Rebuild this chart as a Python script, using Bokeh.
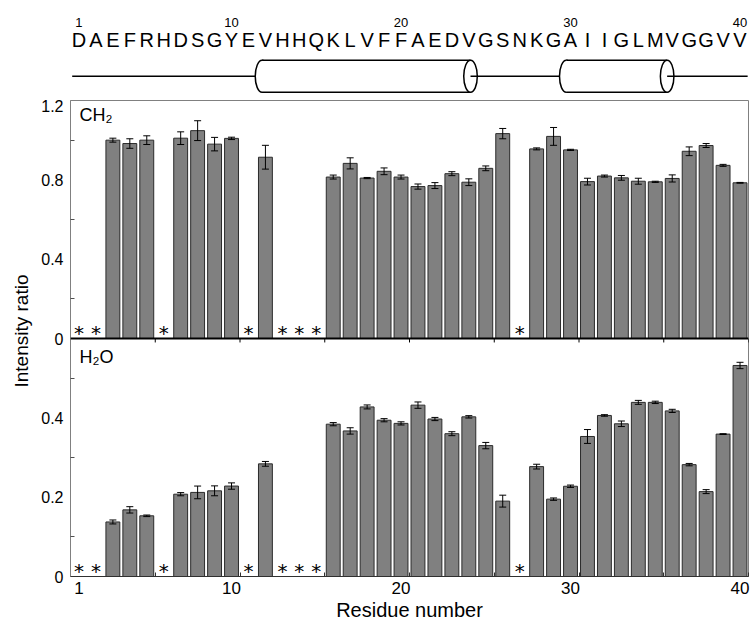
from bokeh.plotting import figure
from bokeh.models import (Range1d, FixedTicker, Whisker, TeeHead, ColumnDataSource,
                          Label, Span, Title)
from bokeh.layouts import column
from bokeh.embed import file_html
from bokeh.resources import INLINE
from bokeh.core.properties import value

# ---------------- data ----------------
residues = list(range(1, 41))
sequence = list("DAEFRHDSGYEVHHQKLVFFAEDVGSNKGAIIGLMVGGVV")
seq_number_ticks = [1, 10, 20, 30, 40]
missing = [1, 2, 6, 11, 13, 14, 15, 27]
helices = [(11.8, 24.1), (29.75, 35.7)]

ch2_ratio = [None, None, 1.000, 0.983, 1.000, None, 1.010, 1.048, 0.980, 1.009,
             None, 0.914, None, None, None, 0.814, 0.883, 0.809, 0.843, 0.814,
             0.766, 0.771, 0.831, 0.788, 0.858, 1.033, None, 0.956, 1.019, 0.951,
             0.791, 0.819, 0.810, 0.793, 0.790, 0.807, 0.944, 0.973, 0.873, 0.785]
ch2_err = [None, None, 0.010, 0.024, 0.022, None, 0.032, 0.050, 0.034, 0.006,
           None, 0.060, None, None, None, 0.010, 0.028, 0.003, 0.017, 0.010,
           0.013, 0.015, 0.010, 0.017, 0.012, 0.026, None, 0.005, 0.045, 0.003,
           0.017, 0.005, 0.012, 0.015, 0.003, 0.018, 0.022, 0.010, 0.005, 0.002]
h2o_ratio = [None, None, 0.1375, 0.168, 0.153, None, 0.2075, 0.212, 0.216, 0.228,
             None, 0.284, None, None, None, 0.384, 0.367, 0.4275, 0.394, 0.386,
             0.432, 0.397, 0.360, 0.4025, 0.330, 0.190, None, 0.277, 0.195, 0.2275,
             0.353, 0.406, 0.385, 0.439, 0.439, 0.4175, 0.282, 0.214, 0.359, 0.532]
h2o_err = [None, None, 0.005, 0.008, 0.002, None, 0.004, 0.016, 0.0125, 0.008,
           None, 0.006, None, None, None, 0.004, 0.008, 0.005, 0.004, 0.004,
           0.008, 0.004, 0.005, 0.003, 0.008, 0.015, None, 0.006, 0.003, 0.003,
           0.0175, 0.002, 0.007, 0.005, 0.003, 0.004, 0.003, 0.005, 0.001, 0.008]

ch2_ticks = [0, 0.4, 0.8, 1.2]
ch2_minor = [0.2, 0.6, 1.0]
h2o_ticks = [0, 0.2, 0.4]
h2o_minor = [0.1, 0.3, 0.5]
x_minor_ticks = [0.5 + 5 * k for k in range(9)]

# ---------------- style ----------------
FONT = "Liberation Sans"
BAR_FILL = "#808080"
BAR_LINE = "#2b2b2b"
GREY = "#808080"
W = 751
LEFT = 70
RIGHT = 3
SEQ_H = 99
MAIN_H = 524
Y_MAIN = (0.0, 1.2)     # H2O panel uses the lower half of this range
Y_CH2 = (-1.2, 1.2)     # CH2 panel uses the upper half of this range


def ch2_to_main(v):
    return round(Y_MAIN[0] + (v - Y_CH2[0]) * (Y_MAIN[1] - Y_MAIN[0]) / (Y_CH2[1] - Y_CH2[0]), 6)


x_range = Range1d(0.5, 40.5)

# ---------------- sequence / secondary structure strip ----------------
s = figure(width=W, height=SEQ_H, x_range=x_range, y_range=Range1d(0, SEQ_H),
           output_backend="svg", toolbar_location=None,
           min_border_left=LEFT, min_border_right=RIGHT, min_border_top=0, min_border_bottom=0)
s.axis.visible = False
s.grid.visible = False
s.outline_line_color = None

NUM_Y, LET_Y, HEL_Y, HEL_HALF = 77.3, 59.8, 23.2, 16.0
CAP_W = 0.8
LINE_START, LINE_END = 0.6, 40.45

s.text(x=seq_number_ticks, y=[NUM_Y] * len(seq_number_ticks),
       text=[str(t) for t in seq_number_ticks], text_font=value(FONT),
       text_font_size="13px", text_align="center", text_baseline="middle", text_color="black")
s.text(x=residues, y=[LET_Y] * len(residues), text=sequence, text_font=value(FONT),
       text_font_size="20px", text_align="center", text_baseline="middle", text_color="black")

starts = [h[0] for h in helices]
ends = [h[1] for h in helices]
s.ellipse(x=starts, y=[HEL_Y] * len(helices), width=CAP_W, height=2 * HEL_HALF,
          fill_color="white", line_color="black", line_width=1.5)
s.quad(left=starts, right=ends, bottom=[HEL_Y - HEL_HALF] * len(helices),
       top=[HEL_Y + HEL_HALF] * len(helices), fill_color="white", line_color=None)
s.segment(x0=starts * 2, x1=ends * 2,
          y0=[HEL_Y + HEL_HALF] * len(helices) + [HEL_Y - HEL_HALF] * len(helices),
          y1=[HEL_Y + HEL_HALF] * len(helices) + [HEL_Y - HEL_HALF] * len(helices),
          line_color="black", line_width=1.5)
s.ellipse(x=ends, y=[HEL_Y] * len(helices), width=CAP_W, height=2 * HEL_HALF,
          fill_color="white", line_color="black", line_width=1.5)
cx0 = [LINE_START] + ends
cx1 = [st - CAP_W / 2 for st in starts] + [LINE_END]
s.segment(x0=cx0, x1=cx1, y0=[HEL_Y] * len(cx0), y1=[HEL_Y] * len(cx0),
          line_color="black", line_width=1.5)

# ---------------- bar panels ----------------
p = figure(width=W, height=MAIN_H, x_range=x_range, y_range=Range1d(*Y_MAIN),
           output_backend="svg", toolbar_location=None,
           min_border_left=LEFT, min_border_right=RIGHT, min_border_top=1,
           min_border_bottom=47)
p.extra_y_ranges = {"ch2": Range1d(*Y_CH2)}
p.grid.visible = False
p.outline_line_color = GREY
p.outline_line_width = 1


def bar_source(vals, errs):
    xs = [r for r, v in zip(residues, vals) if v is not None]
    tops = [v for v in vals if v is not None]
    es = [e for e in errs if e is not None]
    return ColumnDataSource(dict(x=xs, top=tops,
                                 upper=[t + e for t, e in zip(tops, es)],
                                 lower=[t - e for t, e in zip(tops, es)]))


src_ch2 = bar_source(ch2_ratio, ch2_err)
src_h2o = bar_source(h2o_ratio, h2o_err)

p.vbar(x="x", top="top", bottom=0, width=0.82, source=src_ch2, y_range_name="ch2",
       fill_color=BAR_FILL, line_color=BAR_LINE, line_width=1)
p.vbar(x="x", top="top", bottom=0, width=0.82, source=src_h2o,
       fill_color=BAR_FILL, line_color=BAR_LINE, line_width=1)

for src, rn in ((src_ch2, "ch2"), (src_h2o, "default")):
    w = Whisker(source=src, base="x", upper="upper", lower="lower", dimension="height",
                line_color="black", line_width=1, level="annotation", y_range_name=rn,
                upper_head=TeeHead(size=7, line_color="black", line_width=1),
                lower_head=TeeHead(size=7, line_color="black", line_width=1))
    p.add_layout(w)

for rn in ("ch2", "default"):
    p.text(x=missing, y=[0] * len(missing), text=["*"] * len(missing), y_range_name=rn,
           text_font=value("DejaVu Sans"), text_font_size="20px", text_align="center",
           text_baseline="middle", y_offset=-6, text_color="black")

# separator between panels, with short ticks hanging into the lower panel
p.add_layout(Span(location=0, dimension="width", y_range_name="ch2",
                  line_color="black", line_width=2))
p.segment(x0=x_minor_ticks, x1=x_minor_ticks, y0=[0] * len(x_minor_ticks),
          y1=[-0.02] * len(x_minor_ticks), y_range_name="ch2", line_color="black", line_width=1)

# panel labels
p.add_layout(Label(x=0.5, y=Y_CH2[1], y_range_name="ch2", x_offset=9, y_offset=-4,
                   text="CH\u2082", text_font=FONT, text_font_size="18px",
                   text_baseline="top", text_color="black"))
p.add_layout(Label(x=0.5, y=0, y_range_name="ch2", x_offset=9, y_offset=-8,
                   text="H\u2082O", text_font=FONT, text_font_size="18px",
                   text_baseline="top", text_color="black"))

# y axis (one axis, both panels)
major_main = [float(t) for t in h2o_ticks] + [ch2_to_main(t) for t in ch2_ticks]
minor_main = h2o_minor + [ch2_to_main(t) for t in ch2_minor]
overrides = {float(t): ("0" if t == 0 else f"{t:g}") for t in h2o_ticks}
overrides.update({ch2_to_main(t): ("0" if t == 0 else f"{t:g}") for t in ch2_ticks})
yax = p.yaxis[0]
yax.ticker = FixedTicker(ticks=major_main, minor_ticks=minor_main)
yax.major_label_overrides = overrides
yax.major_label_text_font = FONT
yax.major_label_text_font_size = "16px"
yax.major_label_text_color = "black"
yax.major_label_standoff = 7
yax.major_tick_in = 0
yax.major_tick_out = 0
yax.minor_tick_in = 4
yax.minor_tick_out = 0
yax.minor_tick_line_color = "#505050"
yax.axis_line_color = GREY
yax.axis_line_width = 1

xax = p.xaxis[0]
xax.ticker = FixedTicker(ticks=seq_number_ticks, minor_ticks=x_minor_ticks)
xax.major_label_text_font = FONT
xax.major_label_text_font_size = "17px"
xax.major_label_text_color = "black"
xax.major_label_standoff = 5
xax.major_tick_in = 0
xax.major_tick_out = 0
xax.minor_tick_in = 4
xax.minor_tick_out = 0
xax.minor_tick_line_color = "#303030"
xax.axis_line_color = "#303030"
xax.axis_line_width = 1

# axis titles (side-panel titles, not clipped by the frame)
p.add_layout(Title(text="Residue number", align="center", text_font=FONT,
                   text_font_size="20px", text_font_style="normal", text_color="black",
                   standoff=0), "below")
p.add_layout(Title(text="Intensity ratio", align="left", offset=189, text_font=FONT,
                   text_font_size="19px", text_font_style="normal", text_color="black",
                   standoff=13), "left")

layout = column(s, p, spacing=0)
open("out.html", "w").write(file_html(layout, INLINE))
